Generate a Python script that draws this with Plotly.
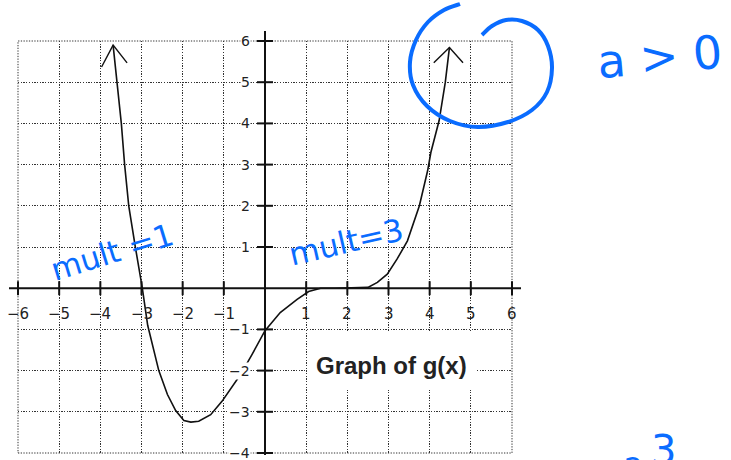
import plotly.graph_objects as go

# ---- data ---------------------------------------------------------------
# points along the curve of g(x)
gx = [-3.69, -3.59, -3.49, -3.41, -3.31, -3.15, -2.98, -2.85, -2.58, -2.37,
      -2.17, -1.97, -1.80, -1.61, -1.32, -1.04, -0.59, -0.31, 0.00, 0.37,
      0.78, 1.06, 1.35, 1.70, 2.00, 2.50, 2.73, 2.97, 3.21, 3.46,
      3.75, 3.95, 4.03, 4.23, 4.38, 4.48]
gy = [5.90, 5.00, 4.00, 3.00, 2.00, 1.00, 0.00, -0.90, -2.00, -2.58,
      -2.97, -3.21, -3.25, -3.23, -3.07, -2.74, -2.09, -1.60, -1.03, -0.59,
      -0.27, -0.08, 0.00, 0.00, 0.01, 0.02, 0.14, 0.34, 0.71, 1.15,
      2.00, 2.85, 3.30, 4.07, 5.00, 5.84]

x_ticks = [-6, -5, -4, -3, -2, -1, 1, 2, 3, 4, 5, 6]
x_tick_labels = ["−6", "−5", "−4", "−3", "−2", "−1", "1", "2", "3", "4", "5", "6"]
y_ticks = [-4, -3, -2, -1, 1, 2, 3, 4, 5, 6]
y_tick_labels = ["−4", "−3", "−2", "−1", "1", "2", "3", "4", "5", "6"]

title_text = "Graph of g(x)"
note_left = "mult =1"
note_mid = "mult=3"
note_sign = "a > 0"

# ---- geometry -----------------------------------------------------------
W, H = 731, 460
ML, MR, MT, MB = 18, 219, 41, 7
PW, PH = W - ML - MR, H - MT - MB
XR = [-6, 6]
YR = [-4, 6]

INK = "#111111"
BLUE = "#0a6cff"
GRID_DASH = "1.3px,1.4px"


def dx(v):  # data x -> paper
    return (v - XR[0]) / (XR[1] - XR[0])


def dy(v):  # data y -> paper
    return (v - YR[0]) / (YR[1] - YR[0])


def px(p):  # pixel x -> paper
    return (p - ML) / PW


def py(p):  # pixel y (from top) -> paper
    return (H - MB - p) / PH


def smooth_path(pts):
    """Catmull-Rom through pixel points, returned as an SVG path in paper units."""
    P = [(px(a), py(b)) for a, b in pts]
    d = f"M {P[0][0]:.5f},{P[0][1]:.5f}"
    for i in range(len(P) - 1):
        p0 = P[i - 1] if i > 0 else P[i]
        p1, p2 = P[i], P[i + 1]
        p3 = P[i + 2] if i + 2 < len(P) else P[i + 1]
        c1 = (p1[0] + (p2[0] - p0[0]) / 6, p1[1] + (p2[1] - p0[1]) / 6)
        c2 = (p2[0] - (p3[0] - p1[0]) / 6, p2[1] - (p3[1] - p1[1]) / 6)
        d += (f" C {c1[0]:.5f},{c1[1]:.5f} {c2[0]:.5f},{c2[1]:.5f} "
              f"{p2[0]:.5f},{p2[1]:.5f}")
    return d


def note(xpix, ypix, text, size, angle=0, family="DejaVu Sans", color=BLUE):
    return dict(x=px(xpix), y=py(ypix), xref="paper", yref="paper",
                xanchor="center", yanchor="middle", text=text, showarrow=False,
                textangle=angle, font=dict(family=family, size=size, color=color))


fig = go.Figure()

# curve
fig.add_trace(go.Scatter(x=gx, y=gy, mode="lines",
                         line=dict(color=INK, width=1.6),
                         hoverinfo="skip", showlegend=False))

# open arrowheads at both ends of the curve
left_wings = [(-0.28, -0.53), (0.34, -0.43)]
right_wings = [(-0.38, -0.37), (0.33, -0.37)]
for (tx, ty), wings in [((gx[0], gy[0]), left_wings), ((gx[-1], gy[-1]), right_wings)]:
    fig.add_trace(go.Scatter(
        x=[tx + wings[0][0], tx, tx + wings[1][0]],
        y=[ty + wings[0][1], ty, ty + wings[1][1]],
        mode="lines", line=dict(color=INK, width=1.4),
        hoverinfo="skip", showlegend=False))

shapes = []
# dotted frame
shapes.append(dict(type="rect", xref="paper", yref="paper", x0=0, x1=1, y0=0, y1=1,
                   line=dict(color="#333", width=1, dash=GRID_DASH), layer="below"))
# white panel behind the caption (covers the grid there)
shapes.append(dict(type="rect", xref="paper", yref="paper",
                   x0=px(307), x1=px(476), y0=py(390), y1=py(331),
                   fillcolor="white", line=dict(width=0), layer="above"))
# coordinate axes, running a little past the grid
shapes.append(dict(type="line", xref="paper", yref="paper",
                   x0=px(9), x1=px(521), y0=dy(0), y1=dy(0),
                   line=dict(color=INK, width=2)))
shapes.append(dict(type="line", xref="paper", yref="paper",
                   x0=dx(0), x1=dx(0), y0=py(455), y1=py(31),
                   line=dict(color=INK, width=2)))
# tick marks across the axes
for v in x_ticks:
    shapes.append(dict(type="line", xref="paper", yref="paper",
                       x0=dx(v), x1=dx(v), y0=dy(0) - 7 / PH, y1=dy(0) + 7 / PH,
                       line=dict(color=INK, width=2)))
for v in y_ticks:
    shapes.append(dict(type="line", xref="paper", yref="paper",
                       x0=dx(0) - 8 / PW, x1=dx(0) + 8 / PW, y0=dy(v), y1=dy(v),
                       line=dict(color=INK, width=2)))

# hand-drawn loop around the right arrow
loop_pts = [(482, 35), (492, 26), (506, 20), (522, 21), (538, 30), (548, 46),
            (552, 68), (547, 92), (532, 110), (508, 122), (478, 127), (450, 121),
            (427, 106), (413, 85), (410, 62), (416, 40), (428, 22), (444, 10),
            (460, 4)]
shapes.append(dict(type="path", xref="paper", yref="paper",
                   path=smooth_path(loop_pts),
                   line=dict(color=BLUE, width=4)))

annotations = []
for v, t in zip(x_ticks, x_tick_labels):
    annotations.append(dict(x=v, y=0, xref="x", yref="y", text=t, showarrow=False,
                            xanchor="center", yanchor="middle", yshift=-26,
                            font=dict(family="DejaVu Sans", size=15, color="#222")))
for v, t in zip(y_ticks, y_tick_labels):
    annotations.append(dict(x=0, y=v, xref="x", yref="y", text=t, showarrow=False,
                            xanchor="right", yanchor="middle", xshift=-14,
                            bgcolor="white", borderpad=0,
                            font=dict(family="DejaVu Sans", size=14, color="#222")))

annotations.append(note(391.5, 365.5, f"<b>{title_text}</b>", 24,
                        family="Liberation Sans", color="#222"))

# blue handwritten notes
annotations.append(note(112, 252, note_left, 31, angle=-17))
annotations.append(note(346, 242, note_mid, 31, angle=-13))
annotations.append(note(659, 57, note_sign, 46, angle=-5))
annotations.append(note(633, 468, "2", 30))
annotations.append(note(663, 450, "3", 40))

axis_common = dict(showgrid=True, gridcolor="#333", gridwidth=1, griddash=GRID_DASH,
                   dtick=1, showticklabels=False, ticks="", zeroline=False,
                   showline=False, fixedrange=True)

fig.update_layout(
    width=W, height=H,
    margin=dict(l=ML, r=MR, t=MT, b=MB, autoexpand=False),
    paper_bgcolor="white", plot_bgcolor="white",
    xaxis=dict(range=XR, tick0=-6, **axis_common),
    yaxis=dict(range=YR, tick0=-4, **axis_common),
    shapes=shapes, annotations=annotations,
    showlegend=False,
)

fig.write_html("out.html")
